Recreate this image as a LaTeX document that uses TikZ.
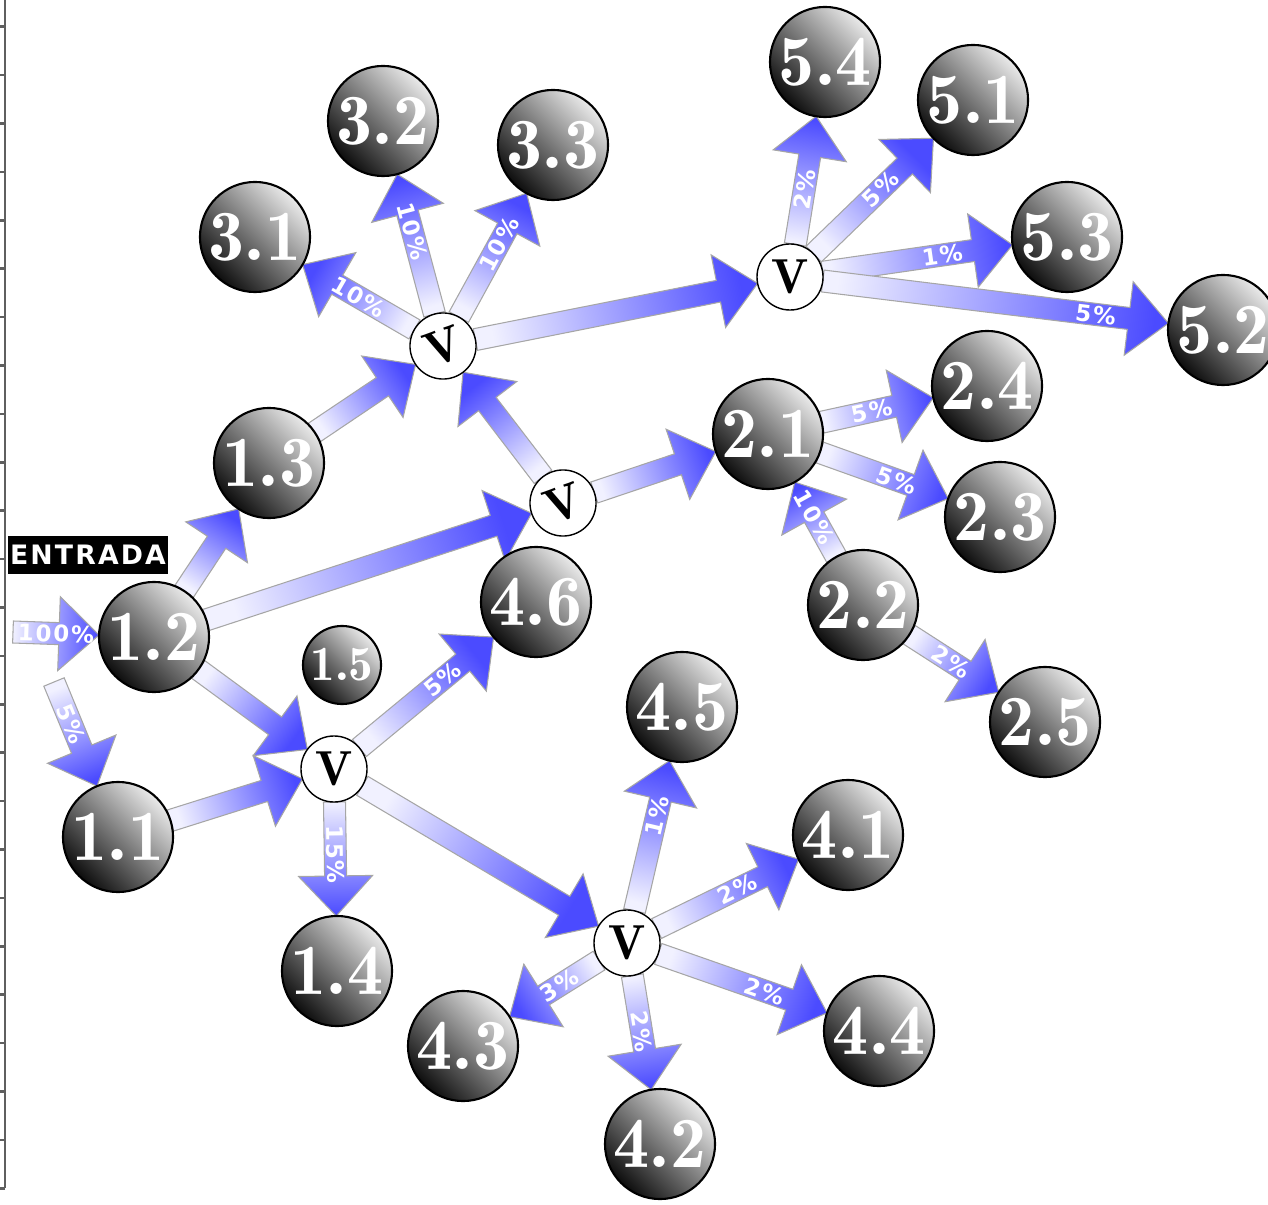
\documentclass[tikz,border=0pt]{standalone}
\usepackage{fontspec}
\usetikzlibrary{calc,positioning}
\newfontfamily\pctfuente{DejaVu Sans}[LetterSpace=8]
\newfontfamily\entradafuente{DejaVu Sans}[LetterSpace=8]
\newcommand\numfuente{\fontfamily{lmr}\fontseries{b}\selectfont}
\definecolor{flujo}{RGB}{75,75,255}
\definecolor{regla}{RGB}{95,95,95}
\pgfdeclarehorizontalshading{esferagris}{100bp}{color(0bp)=(black);
  color(22bp)=(black); color(50bp)=(black!52); color(78bp)=(black!3); color(100bp)=(white)}
\pgfdeclarelayer{fondo}
\pgfsetlayers{fondo,main}

% medidas de las flechas
\def\fcuerpo{0.11cm}
\def\fcabeza{0.37cm}
\def\fpunta{0.40cm}

\tikzset{
  esfera/.style={circle, draw=black, line width=0.6pt, minimum size=1.1cm, inner sep=0pt,
    shading=esferagris, shading angle=45, text=white, font=\fontsize{20.5}{20.5}\numfuente},
  esferita/.style={esfera, minimum size=0.78cm, font=\fontsize{14}{14}\numfuente},
  valvula/.style={circle, draw=black, line width=0.4pt, fill=white, minimum size=0.66cm,
    inner sep=0pt, font=\fontsize{14}{14}\numfuente},
  entrada/.style={fill=black, text=white, minimum width=1.6cm, minimum height=0.37cm,
    inner sep=0pt, font=\fontsize{7.6}{7.6}\entradafuente\bfseries},
  cuerpo/.style={draw=gray!70, line width=0.3pt, left color=flujo!8, right color=flujo},
  pct/.style={text=white, inner sep=0pt, font=\fontsize{6.5}{6.5}\pctfuente\bfseries},
}

% flecha ancha: origen, radio, destino, radio, etiqueta, posicion
\newcommand\flecha[6]{%
  \path let \p1=($(#1)!#2!(#3)$), \p2=($(#3)!#4!(#1)$) in
    \pgfextra{%
      \pgfmathsetmacro\fang{atan2(\y2-\y1,\x2-\x1)}%
      \pgfmathsetmacro\ftxt{abs(\fang)>90 ? \fang+180 : \fang}%
      \global\let\fang\fang \global\let\ftxt\ftxt}
    (\p1) coordinate (fini) (\p2) coordinate (ffin);
  \path ($(ffin)!\fpunta!(fini)$) coordinate (fcuello);
  \shade[cuerpo, shading angle=\fang+90]
    ($(fini)!\fcuerpo!90:(ffin)$) -- ($(fcuello)!\fcuerpo!-90:(fini)$)
    -- ($(fcuello)!\fcabeza!-90:(fini)$) -- (ffin) -- ($(fcuello)!\fcabeza!90:(fini)$)
    -- ($(fcuello)!\fcuerpo!90:(fini)$) -- ($(fini)!\fcuerpo!-90:(ffin)$) -- cycle;
  \if\relax\detokenize{#5}\relax\else
    \node[pct, rotate=\ftxt] at ($(fini)!#6!(ffin)$) {#5};
  \fi}

\begin{document}
\begin{tikzpicture}[x=0.01cm, y=-0.01cm]
\useasboundingbox (0,0) rectangle (1268,1204);

% regla
\draw[regla, line width=0.7pt] (5,0) -- (5,1188);
\foreach \k in {0,...,24}
  \draw[regla, line width=0.7pt] (0,{26.7+48.4*\k}) -- (5.3,{26.7+48.4*\k});

% esferas
\node[esfera] (e11) at (118,837) {1.1};
\node[esfera] (e12) at (154,637) {1.2};
\node[esfera] (e13) at (269,463) {1.3};
\node[esfera] (e14) at (337,971) {1.4};
\node[esferita] (e15) at (342,665) {1.5};
\node[esfera] (e21) at (768,434) {2.1};
\node[esfera] (e22) at (863,605) {2.2};
\node[esfera] (e23) at (1000,517) {2.3};
\node[esfera] (e24) at (987,386) {2.4};
\node[esfera] (e25) at (1045,722) {2.5};
\node[esfera] (e31) at (255,237) {3.1};
\node[esfera] (e32) at (383,121) {3.2};
\node[esfera] (e33) at (553,145) {3.3};
\node[esfera] (e41) at (848,835) {4.1};
\node[esfera] (e42) at (660,1144) {4.2};
\node[esfera] (e43) at (463,1046) {4.3};
\node[esfera] (e44) at (879,1031) {4.4};
\node[esfera] (e45) at (682,707) {4.5};
\node[esfera] (e46) at (536,602) {4.6};
\node[esfera] (e51) at (973,100) {5.1};
\node[esfera] (e52) at (1223,330) {5.2};
\node[esfera] (e53) at (1067,237) {5.3};
\node[esfera] (e54) at (825,62) {5.4};

% valvulas
\node[valvula] (v1) at (334,769) {V};
\node[valvula, rotate=20] (v2) at (563,503) {V};
\node[valvula, rotate=20] (v3) at (443,346) {V};
\node[valvula] (v4) at (627,943) {V};
\node[valvula] (v5) at (790,277) {V};

\node[entrada] (entrada) at (88,555) {ENTRADA};
\coordinate (in100) at (13,632);
\coordinate (in5) at (54,682);

\begin{pgfonlayer}{fondo}
\flecha{in100}{0cm}{e12}{0.55cm}{100\%}{0.5}
\flecha{in5}{0cm}{e11}{0.55cm}{5\%}{0.4}
\flecha{e12}{0.55cm}{e13}{0.55cm}{}{0.5}
\flecha{e12}{0.55cm}{v2}{0.33cm}{}{0.5}
\flecha{e12}{0.55cm}{v1}{0.33cm}{}{0.5}
\flecha{e11}{0.55cm}{v1}{0.33cm}{}{0.5}
\flecha{e13}{0.55cm}{v3}{0.33cm}{}{0.5}
\flecha{v2}{0.33cm}{v3}{0.33cm}{}{0.5}
\flecha{v2}{0.33cm}{e21}{0.55cm}{}{0.5}
\flecha{v3}{0.33cm}{v5}{0.33cm}{}{0.5}
\flecha{v1}{0.33cm}{v4}{0.33cm}{}{0.5}
\flecha{v3}{0.33cm}{e31}{0.55cm}{10\%}{0.50}
\flecha{v3}{0.33cm}{e32}{0.55cm}{10\%}{0.59}
\flecha{v3}{0.33cm}{e33}{0.55cm}{10\%}{0.59}
\flecha{v5}{0.33cm}{e54}{0.55cm}{2\%}{0.43}
\flecha{v5}{0.33cm}{e51}{0.55cm}{5\%}{0.56}
\flecha{v5}{0.33cm}{e53}{0.55cm}{1\%}{0.63}
\flecha{v5}{0.33cm}{e52}{0.55cm}{5\%}{0.79}
\flecha{e21}{0.55cm}{e24}{0.55cm}{5\%}{0.45}
\flecha{e21}{0.55cm}{e23}{0.55cm}{5\%}{0.60}
\flecha{e22}{0.55cm}{e21}{0.55cm}{10\%}{0.53}
\flecha{e22}{0.55cm}{e25}{0.55cm}{2\%}{0.47}
\flecha{v1}{0.33cm}{e46}{0.55cm}{5\%}{0.62}
\flecha{v1}{0.33cm}{e14}{0.55cm}{15\%}{0.46}
\flecha{v4}{0.33cm}{e45}{0.55cm}{1\%}{0.63}
\flecha{v4}{0.33cm}{e41}{0.55cm}{2\%}{0.57}
\flecha{v4}{0.33cm}{e44}{0.55cm}{2\%}{0.63}
\flecha{v4}{0.33cm}{e42}{0.55cm}{2\%}{0.49}
\flecha{v4}{0.33cm}{e43}{0.55cm}{3\%}{0.44}
\end{pgfonlayer}
\end{tikzpicture}
\end{document}
